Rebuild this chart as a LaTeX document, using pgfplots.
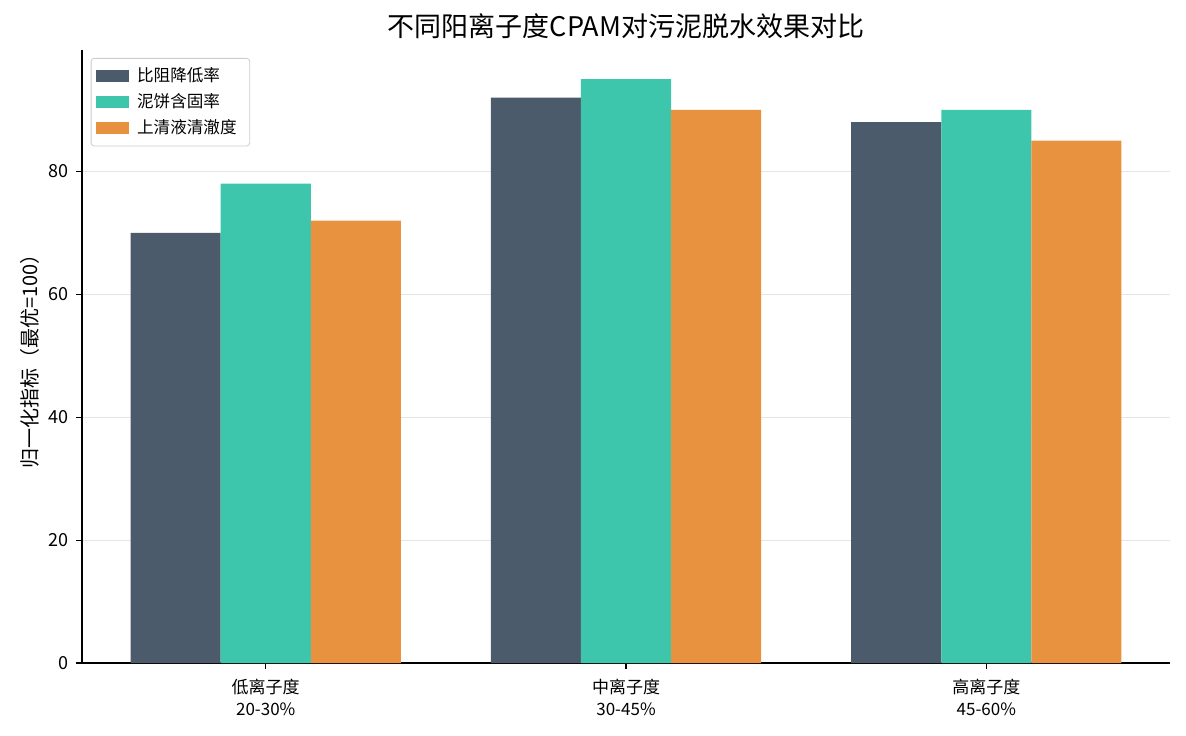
\documentclass[border=0pt]{standalone}
\usepackage{pgfplots}
\pgfplotsset{compat=1.18}
\usepackage{fontspec}
\setmainfont{Noto Sans CJK SC}
\definecolor{cslate}{HTML}{4B5B6B}
\definecolor{cteal}{HTML}{3EC6AC}
\definecolor{corange}{HTML}{E8923F}
\begin{document}
\begin{tikzpicture}
\useasboundingbox (-41pt,-36pt) rectangle (552pt,331.5pt);
\begin{axis}[
    at={(0,0)}, anchor=south west,
    scale only axis, width=544pt, height=306.5pt,
    xmin=-0.51, xmax=2.51, ymin=0, ymax=99.75,
    axis x line*=bottom, axis y line*=left,
    axis line style={line width=0.75pt},
    tick align=outside, tick style={black, line width=0.6pt},
    major tick length=3pt,
    xtick={0,1,2},
    xticklabels={{低离子度\\20-30\%},{中离子度\\30-45\%},{高离子度\\45-60\%}},
    xticklabel style={align=center, font=\fontsize{8.5}{11}\selectfont, yshift=-1.5pt},
    ytick={0,20,40,60,80},
    yticklabel style={font=\fontsize{9}{10}\selectfont},
    /pgf/number format/assume math mode=true,
    ymajorgrids, grid style={gray!20, line width=0.5pt},
    ylabel={归一化指标（最优=100）},
    ylabel style={font=\fontsize{10}{12}\selectfont, yshift=-2pt},
    title={不同阳离子度CPAM对污泥脱水效果对比},
    title style={font=\fontsize{13.5}{15}\selectfont, yshift=-4pt},
    ybar, bar width=0.25, bar shift=0pt,
    legend style={at={(0.008,0.987)}, anchor=north west,
        draw=gray!40, rounded corners=1.5pt, font=\fontsize{8.3}{10}\selectfont,
        row sep=0.6pt, inner sep=2.5pt},
    legend cell align=left,
    legend image code/.code={\fill[#1, sharp corners] (0pt,-3pt) rectangle (16.5pt,3pt);},
    legend style={nodes={inner xsep=4pt}},
]
\addplot[fill=cslate, draw=none] coordinates {(-0.25,70) (0.75,92) (1.75,88)};
\addplot[fill=cteal, draw=none] coordinates {(0,78) (1,95) (2,90)};
\addplot[fill=corange, draw=none] coordinates {(0.25,72) (1.25,90) (2.25,85)};
\legend{比阻降低率,泥饼含固率,上清液清澈度}
\end{axis}
\end{tikzpicture}
\end{document}
